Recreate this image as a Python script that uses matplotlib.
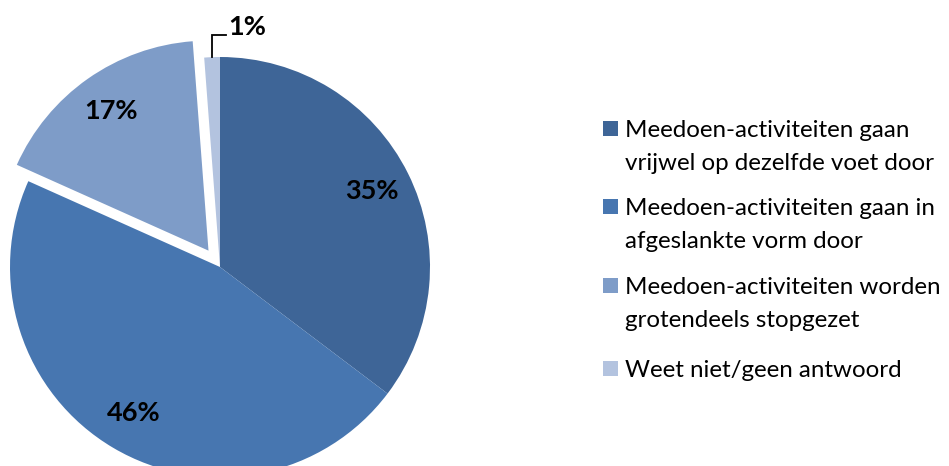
import matplotlib
matplotlib.use("Agg")
import numpy as np
import matplotlib.pyplot as plt
from matplotlib.patches import Rectangle

plt.rcParams['font.family'] = ['Lato', 'DejaVu Sans']

# data (shares in percent)
labels = [
    "Meedoen-activiteiten gaan\nvrijwel op dezelfde voet door",
    "Meedoen-activiteiten gaan in\nafgeslankte vorm door",
    "Meedoen-activiteiten worden\ngrotendeels stopgezet",
    "Weet niet/geen antwoord",
]
values = [35.3, 46.4, 17.1, 1.2]
colors = ['#3E6597', '#4776B0', '#7E9CC8', '#B3C3DF']
explode = [0, 0, 20, 0]

W, H = 949, 466
fig = plt.figure(figsize=(W / 100, H / 100), dpi=100)
ax = fig.add_axes([0, 0, 1, 1])

# pie in pixel coordinates (y up)
cx, cy, R = 220, H - 267, 210
wedges, texts, autotexts = ax.pie(
    values, colors=colors, startangle=90, counterclock=False,
    center=(cx, cy), radius=R, explode=explode,
    autopct=lambda p: f'{p:.0f}%', pctdistance=0.81,
    textprops=dict(fontsize=19.5, fontweight='bold', color='black'),
    wedgeprops=dict(linewidth=0),
)

# small slice: label outside with elbow leader line
w = wedges[3]
mid = np.deg2rad((w.theta1 + w.theta2) / 2)
px, py = cx + R * np.cos(mid), cy + R * np.sin(mid)
ax.plot([px, px, px + 14], [py, py + 22, py + 22], color='black', lw=1.3,
        solid_joinstyle='miter')
autotexts[3].set_position((px + 16, py + 30))
autotexts[3].set_ha('left')
autotexts[3].set_va('center')

ax.set_xlim(0, W)
ax.set_ylim(0, H)
ax.set_aspect('auto')
ax.axis('off')

# legend
baselines = [137, 215, 294, 377]
for lab, col, b in zip(labels, colors, baselines):
    ax.add_patch(Rectangle((603, H - b + 1), 15, 15, color=col, lw=0))
    for i, line in enumerate(lab.split('\n')):
        ax.text(625, H - b - i * 33, line, fontsize=17.4, va='baseline',
                ha='left', color='black')

fig.savefig('out.png', dpi=100)
